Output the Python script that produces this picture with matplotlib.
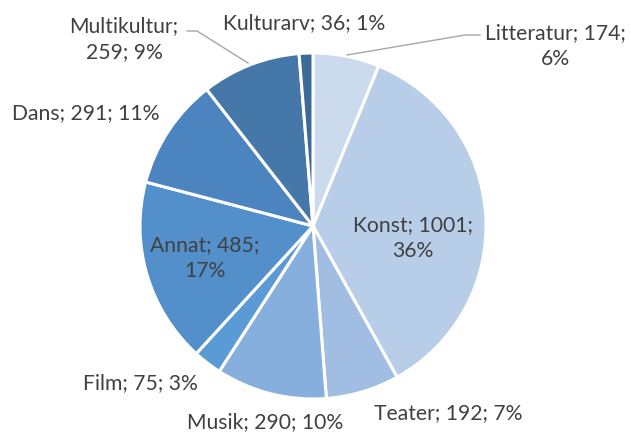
import matplotlib
matplotlib.use("Agg")
import matplotlib.pyplot as plt

plt.rcParams['font.family'] = ['Lato', 'DejaVu Sans']

categories = ["Litteratur", "Konst", "Teater", "Musik", "Film",
              "Annat", "Dans", "Multikultur", "Kulturarv"]
values = [174, 1001, 192, 290, 75, 485, 291, 259, 36]
colors = ["#cbdaed", "#b8cde8", "#a2bde2", "#87afdd", "#5b9bd5",
          "#5390cb", "#4c84bf", "#4577a9", "#3c6a98"]

# label placement in pixel space (x, y from top), text layout only
label_pos = {
    "Litteratur": (555, 46),
    "Konst": (413, 238),
    "Teater": (448, 413),
    "Musik": (265, 422),
    "Film": (140, 383),
    "Annat": (205, 258),
    "Dans": (86, 113),
    "Multikultur": (124, 39),
    "Kulturarv": (304, 23),
}
two_line = {"Litteratur", "Konst", "Annat", "Multikultur"}


def percentages(vals):
    # largest remainder rounding, so the labels add up to 100 like Excel
    total = sum(vals)
    raw = [v / total * 100 for v in vals]
    pcts = [int(r) for r in raw]
    order = sorted(range(len(vals)), key=lambda i: raw[i] - pcts[i], reverse=True)
    for i in order[:100 - sum(pcts)]:
        pcts[i] += 1
    return pcts


W, H = 631, 433
fig = plt.figure(figsize=(W / 100, H / 100), dpi=100)
ax = fig.add_axes([0, 0, 1, 1])

ax.pie(values, colors=colors, startangle=90, counterclock=False,
       radius=173, center=(313, H - 226),
       wedgeprops=dict(edgecolor="white", linewidth=2.2), frame=True)
ax.set_xlim(0, W)
ax.set_ylim(0, H)
ax.set_aspect("equal")
ax.axis("off")

for cat, val, pct in zip(categories, values, percentages(values)):
    if cat in two_line:
        if cat == "Multikultur":
            txt = f"{cat};\n{val}; {pct}%"
        else:
            txt = f"{cat}; {val};\n{pct}%"
    else:
        txt = f"{cat}; {val}; {pct}%"
    x, y = label_pos[cat]
    ax.text(x, H - y, txt, ha="center", va="center", fontsize=15.2,
            color="#404040", linespacing=1.35)

# leader lines
ax.plot([187, 197, 248], [H - 31, H - 31, H - 63], color="#a6a6a6", lw=1)
ax.plot([347, 465, 480], [H - 55, H - 35, H - 35], color="#a6a6a6", lw=1)

fig.savefig("out.png", dpi=100)
